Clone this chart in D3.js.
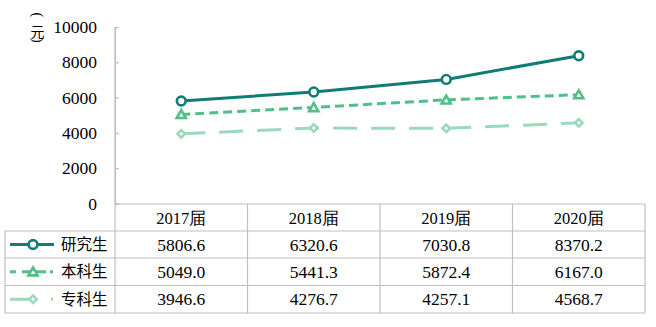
<!DOCTYPE html>
<html>
<head>
<meta charset="utf-8">
<script src="https://cdn.jsdelivr.net/npm/d3@7/dist/d3.min.js"></script>
<style>
  html, body { margin: 0; padding: 0; background: #fff; }
  svg { display: block; }
  .serif { font-family: "Liberation Serif", "Times New Roman", serif; }
  .cjk { font-family: "Noto Sans CJK SC", sans-serif; }
</style>
</head>
<body>
<svg id="chart" width="656" height="327"></svg>
<script>
// Average monthly income by graduating class (元)
const years = ["2017届", "2018届", "2019届", "2020届"];
const seriesNames = ["研究生", "本科生", "专科生"];
const graduate = [5806.6, 6320.6, 7030.8, 8370.2];
const undergrad = [5049.0, 5441.3, 5872.4, 6167.0];
const vocational = [3946.6, 4276.7, 4257.1, 4568.7];
const yTicks = [0, 2000, 4000, 6000, 8000, 10000];

const series = [
  { name: seriesNames[0], values: graduate, color: "#0f7d73", dash: null, marker: "circle",
    key: [[10, 54]] },
  { name: seriesNames[1], values: undergrad, color: "#52be88", dash: "9,5", marker: "triangle",
    key: [[10, 16], [22, 46], [50, 53]] },
  { name: seriesNames[2], values: vocational, color: "#9bd9bb", dash: "24,14", marker: "diamond",
    key: [[10, 30], [51, 53]] }
];

const svg = d3.select("#chart");

const plotLeft = 115, plotRight = 645, plotTop = 27, plotBottom = 203.5;
const tableLeft = 5;
const rowEdges = [204, 231, 258, 285.5, 313];

const x = d3.scaleBand().domain(years).range([plotLeft, plotRight]);
const y = d3.scaleLinear().domain([0, 10000]).range([plotBottom, plotTop]);

// Y axis
const yAxis = d3.axisLeft(y).tickValues(yTicks).tickSize(-4).tickPadding(18).tickFormat(d3.format("d"));
const yg = svg.append("g").attr("transform", `translate(${plotLeft},0)`).call(yAxis)
  .attr("font-family", null).attr("font-size", null);
yg.select(".domain").attr("stroke", "#bfbfbf").attr("stroke-width", 1.2);
yg.selectAll(".tick line").attr("stroke", "#bfbfbf").attr("stroke-width", 1.2);
yg.selectAll(".tick text").attr("class", "serif").style("font-size", "17.5px").attr("fill", "#000");

// Unit label: 元 between brackets turned a quarter so they open down / up
svg.append("text")
  .attr("x", "32.5 30.5 32.5")
  .attr("y", "12.5 36.5 38")
  .attr("rotate", "90 0 90")
  .style("font-family", "\"Liberation Serif\", \"Noto Sans CJK SC\", serif")
  .style("font-size", "14px")
  .attr("fill", "#000")
  .text("(元)");

// Data table grid
const grid = svg.append("g").attr("stroke", "#bfbfbf").attr("stroke-width", 1.2).attr("fill", "none");
grid.append("line").attr("x1", plotLeft).attr("x2", plotRight).attr("y1", rowEdges[0]).attr("y2", rowEdges[0]);
rowEdges.slice(1).forEach(r => {
  grid.append("line").attr("x1", tableLeft).attr("x2", plotRight).attr("y1", r).attr("y2", r);
});
grid.append("line").attr("x1", tableLeft).attr("x2", tableLeft).attr("y1", rowEdges[1]).attr("y2", rowEdges[4]);
years.forEach(yr => {
  grid.append("line").attr("x1", x(yr)).attr("x2", x(yr)).attr("y1", yr === years[0] ? plotTop : rowEdges[0]).attr("y2", rowEdges[4]);
});
grid.append("line").attr("x1", plotRight).attr("x2", plotRight).attr("y1", rowEdges[0]).attr("y2", rowEdges[4]);

// Header row
svg.append("g").selectAll("text").data(years).join("text")
  .attr("class", "serif")
  .attr("x", d => x(d) + x.bandwidth() / 2)
  .attr("y", (rowEdges[0] + rowEdges[1]) / 2 + 6)
  .attr("text-anchor", "middle")
  .style("font-size", "16.5px")
  .text(d => d);

function drawMarker(g, type, cx, cy, color) {
  if (type === "circle") {
    g.append("circle").attr("cx", cx).attr("cy", cy).attr("r", 4.4)
      .attr("fill", "#fff").attr("stroke", color).attr("stroke-width", 2.6);
  } else if (type === "triangle") {
    g.append("path").attr("d", d3.symbol(d3.symbolTriangle, 36)())
      .attr("transform", `translate(${cx},${cy + 1})`)
      .attr("fill", "#fff").attr("stroke", color).attr("stroke-width", 2.6);
  } else {
    g.append("path").attr("d", d3.symbol(d3.symbolSquare, 28)())
      .attr("transform", `translate(${cx},${cy}) rotate(45)`)
      .attr("fill", "#fff").attr("stroke", color).attr("stroke-width", 2.6);
  }
}

const cx = d => x(d) + x.bandwidth() / 2;
const line = d3.line().x((v, i) => cx(years[i])).y(v => y(v));

// Lines and markers, drawn bottom series first
series.slice().reverse().forEach(s => {
  const g = svg.append("g");
  g.append("path").attr("d", line(s.values))
    .attr("fill", "none").attr("stroke", s.color).attr("stroke-width", 3)
    .attr("stroke-dasharray", s.dash);
  s.values.forEach((v, i) => drawMarker(g, s.marker, cx(years[i]), y(v), s.color));
});

// Table body: legend key + values
series.forEach((s, r) => {
  const top = rowEdges[r + 1], bottom = rowEdges[r + 2];
  const my = (top + bottom) / 2;
  const g = svg.append("g");
  s.key.forEach(([a, b]) =>
    g.append("line").attr("x1", a).attr("x2", b).attr("y1", my).attr("y2", my)
      .attr("stroke", s.color).attr("stroke-width", 3));
  drawMarker(g, s.marker, 33, my, s.color);
  g.append("text").attr("class", "cjk").attr("x", 61).attr("y", my + 5.5)
    .style("font-size", "15.5px").text(s.name);
  s.values.forEach((v, i) => {
    g.append("text").attr("class", "serif").attr("x", cx(years[i])).attr("y", my + 6)
      .attr("text-anchor", "middle").style("font-size", "17.5px")
      .text(v.toFixed(1));
  });
});
</script>
</body>
</html>
